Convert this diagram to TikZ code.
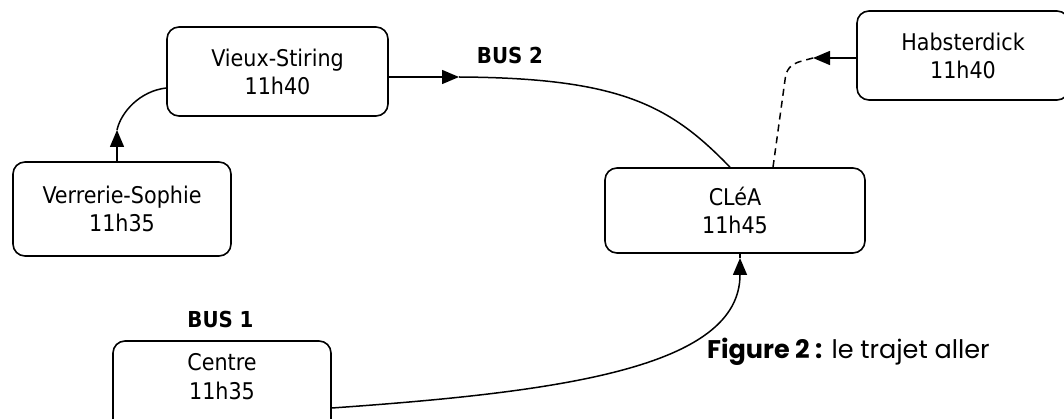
\documentclass[tikz,border=0pt]{standalone}
\usepackage{fontspec}
\usetikzlibrary{arrows.meta,calc}
\newfontfamily\boxfont{DejaVu Sans Condensed}
\newfontfamily\capfont{Poppins}
\tikzset{
  stop/.style={draw, line width=1.6pt, rounded corners=12pt, align=center,
    font={\boxfont\fontsize{23}{28}\selectfont}, inner sep=0pt},
  stoptext/.style={align=center, font={\boxfont\fontsize{23}{29}\selectfont}, inner sep=0pt},
  buslbl/.style={font={\boxfont\bfseries\fontsize{22}{26}\selectfont}, inner sep=0pt},
  caption/.style={font={\capfont\fontsize{25.5}{30}\selectfont}, inner sep=0pt},
  conn/.style={line width=1.5pt},
  tip/.style={-{Triangle[length=17pt,width=14pt]}, line width=1.5pt},
  dashconn/.style={line width=1.5pt, dash pattern=on 7pt off 5pt},
}
\begin{document}
\begin{tikzpicture}[x=1pt,y=-1pt]
\useasboundingbox (0,0) rectangle (1064,419);
% stops
\node[stop, minimum width=221pt, minimum height=89pt] (vie) at (277.5,71.5) {Vieux-Stiring\\11h40};
\node[stop, minimum width=218pt, minimum height=94pt] (ver) at (122,209) {Verrerie-Sophie\\11h35};
\node[stop, minimum width=260pt, minimum height=85pt] (cle) at (735,210.5) {CLéA\\11h45};
\node[stop, minimum width=212pt, minimum height=89pt] (hab) at (963,55.5) {Habsterdick\\11h40};
\node[stop, minimum width=218pt, minimum height=92pt] (cen) at (222,387) {};
\node[stoptext] (centxt) at (222,377) {Centre\\11h35};
% labels
\node[buslbl, anchor=base] (bus2) at (510,64) {BUS 2};
\node[buslbl, anchor=base] (bus1) at (220.5,327) {BUS 1};
% Verrerie -> Vieux-Stiring
\coordinate (vtip) at (117,130);
\draw[tip] (ver.north -| vtip) -- (vtip);
\draw[conn] (vtip) .. controls (121,112) and (140,91) .. ($(vie.west)+(0,16.5)$);
% Vieux-Stiring -> CLeA
\coordinate (btip) at (459,77);
\draw[tip] ($(vie.east)+(0,5.5)$) -- (btip);
\draw[conn] (btip) .. controls (620,78) and (670,105) .. ($(cle.north)+(-5,0)$);
% Habsterdick -> CLeA (dashed)
\coordinate (htip) at (813,58);
\draw[tip] ($(hab.west)+(0,2.5)$) -- (htip);
\draw[dashconn] (htip) -- (802,61) .. controls (790,64) and (786,70) .. (785,80) -- ($(cle.north)+(38,0)$);
% Centre -> CLeA
\coordinate (ctip) at (740,258);
\draw[tip] ($(cen.east)+(0,21)$) .. controls (560,392) and (740,368) .. (ctip);
\draw[conn] (ctip) -- (ctip |- cle.south);
% caption (drawn over the curve, as in the reference)
\node[caption, anchor=base west] (cap) at (707,358) {\textbf{Figure 2 :} le trajet aller};
\end{tikzpicture}
\end{document}
